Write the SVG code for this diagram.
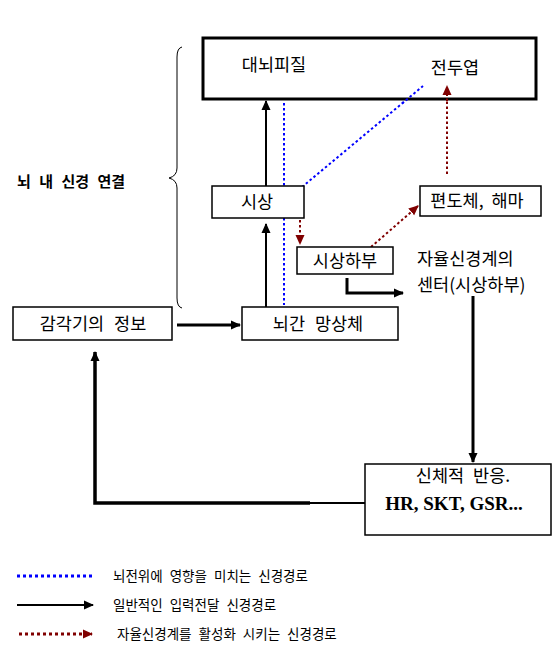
<svg xmlns="http://www.w3.org/2000/svg" width="558" height="654" viewBox="0 0 558 654">
<style>
text{font-family:"Noto Sans CJK KR","Noto Sans",sans-serif;fill:#000}
.lbl{font-size:17.5px}
.lg{font-size:13.5px}
.box{fill:#fff;stroke:#000;stroke-width:1.5}
.blue{stroke:#0000ff;stroke-width:2;stroke-dasharray:2.5 2.5;fill:none}
.red{stroke:#800000;stroke-width:2;stroke-dasharray:2.5 2.5;fill:none}
.blk{stroke:#000;fill:none}
</style>
<defs>
<marker id="ab" markerUnits="userSpaceOnUse" markerWidth="10" markerHeight="10" refX="9" refY="5" orient="auto"><path d="M0,0.5 L10,5 L0,9.5 z" fill="#000" stroke="none"/></marker>
<marker id="ar" markerUnits="userSpaceOnUse" markerWidth="10" markerHeight="10" refX="9" refY="5" orient="auto"><path d="M0,0.5 L10,5 L0,9.5 z" fill="#800000" stroke="none"/></marker>
</defs>
<rect width="558" height="654" fill="#fff"/>
<g id="brace">
<path d="M182,47 Q177,48 177,57 L177,168 Q177,176 169,178 Q177,180 177,188 L177,298 Q177,307 182,308" fill="none" stroke="#000" stroke-width="1"/>
<text x="17" y="187" style="font-size:15px;font-weight:bold" word-spacing="5">뇌 내 신경 연결</text>
</g>
<g id="connectors">
<line class="blue" x1="284" y1="103" x2="284" y2="305"/>
<line class="blue" x1="302" y1="187" x2="423" y2="86"/>
<line class="blk" stroke-width="2" x1="266" y1="186" x2="266" y2="101" marker-end="url(#ab)"/>
<line class="blk" stroke-width="2" x1="266" y1="307" x2="266" y2="224" marker-end="url(#ab)"/>
<line class="red" x1="447" y1="174" x2="447" y2="86" marker-end="url(#ar)"/>
<line class="red" x1="300" y1="220" x2="300" y2="244" marker-end="url(#ar)"/>
<line class="red" x1="371" y1="247" x2="418" y2="206" marker-end="url(#ar)"/>
<path class="blk" stroke-width="3" d="M347,278 L347,293 L403,293" marker-end="url(#ab)"/>
<line class="blk" stroke-width="3" x1="473" y1="296" x2="473" y2="462" marker-end="url(#ab)"/>
<line class="blk" stroke-width="3" x1="177" y1="325" x2="240" y2="325" marker-end="url(#ab)"/>
<line class="blk" stroke-width="2" x1="310" y1="503" x2="365" y2="503"/>
<path class="blk" stroke-width="3.5" d="M310,503 L95,503 L95,352" marker-end="url(#ab)"/>
</g>
<g id="cortex">
<rect x="203" y="38" width="333" height="61" fill="#fff" stroke="#000" stroke-width="3"/>
<text class="lbl" x="274" y="71" text-anchor="middle">대뇌피질</text>
<text class="lbl" x="455" y="74" text-anchor="middle">전두엽</text>
</g>
<line class="blue" x1="402" y1="103.5" x2="423" y2="86"/>
<line class="red" x1="447" y1="101" x2="447" y2="86" marker-end="url(#ar)"/>
<g id="thalamus">
<rect class="box" x="212" y="186" width="92" height="32"/>
<text class="lbl" x="257" y="208" text-anchor="middle">시상</text>
</g>
<g id="amygdala">
<rect class="box" x="420" y="186" width="121" height="30"/>
<text class="lbl" x="477" y="207" text-anchor="middle" word-spacing="4">편도체, 해마</text>
</g>
<g id="hypothalamus">
<rect class="box" x="297" y="247" width="96" height="27"/>
<text class="lbl" x="345" y="267" text-anchor="middle">시상하부</text>
</g>
<g id="ans-center">
<text class="lbl" x="417" y="265">자율신경계의</text>
<text class="lbl" x="417" y="291">센터(시상하부)</text>
</g>
<g id="sensory">
<rect class="box" x="13" y="307" width="159" height="33"/>
<text class="lbl" x="93" y="330" text-anchor="middle" word-spacing="6">감각기의 정보</text>
</g>
<g id="brainstem">
<rect class="box" x="242" y="307" width="156" height="33"/>
<text class="lbl" x="318" y="330" text-anchor="middle" word-spacing="6">뇌간 망상체</text>
</g>
<g id="body">
<rect class="box" x="365" y="464" width="186" height="71"/>
<text class="lbl" x="463" y="482" text-anchor="middle" word-spacing="5">신체적 반응.</text>
<text x="454" y="510" text-anchor="middle" style="font-family:'Liberation Serif',serif;font-weight:bold;font-size:19px">HR, SKT, GSR...</text>
</g>
<g id="legend">
<line x1="17" y1="576" x2="92" y2="576" stroke="#0000ff" stroke-width="3" stroke-dasharray="3 3"/>
<text class="lg" x="113" y="581" word-spacing="4">뇌전위에 영향을 미치는 신경경로</text>
<line x1="17" y1="605" x2="93" y2="605" stroke="#000" stroke-width="2" marker-end="url(#ab)"/>
<text class="lg" x="113" y="610" word-spacing="4">일반적인 입력전달 신경경로</text>
<line x1="19" y1="634" x2="92" y2="634" stroke="#800000" stroke-width="3" stroke-dasharray="3 3" marker-end="url(#ar)"/>
<text class="lg" x="117" y="639" word-spacing="4">자율신경계를 활성화 시키는 신경경로</text>
</g>
</svg>
